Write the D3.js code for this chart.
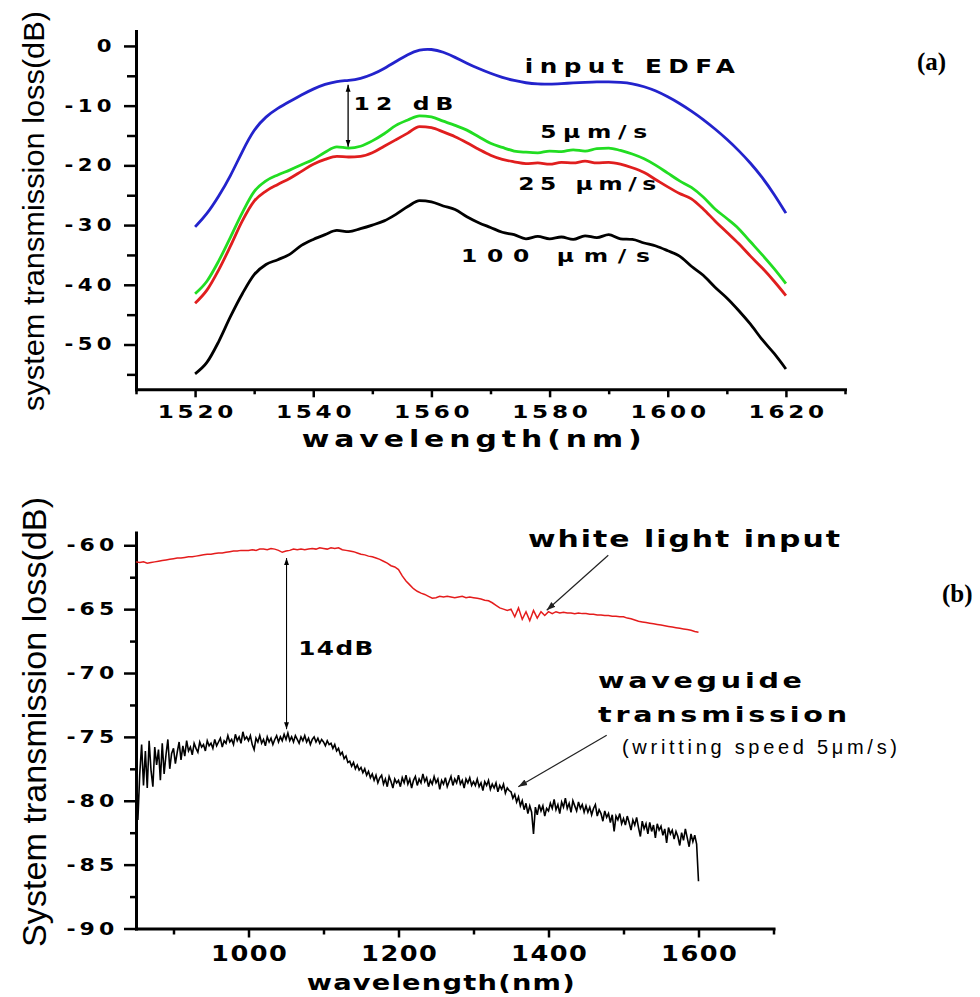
<!DOCTYPE html>
<html>
<head>
<meta charset="utf-8">
<script src="https://cdn.jsdelivr.net/npm/d3@7"></script>
<style>
  body { margin: 0; background: #fff; }
  svg { display: block; }
</style>
</head>
<body>
<div id="chart"></div>
<script>
// ---- datos panel (a) ----
const wavelengthA = [1520,1522,1524,1526,1528,1530,1532,1534,1536,1538,
                     1540,1542,1544,1546,1548,1550,1552,1554,1556,1558,
                     1560,1562,1564,1566,1568,1570,1572,1574,1576,1578,
                     1580,1582,1584,1586,1588,1590,1592,1594,1596,1598,
                     1600,1602,1604,1606,1608,1610,1612,1614,1616,1618,1620]
const edfaInput = [-30.3,-28.2,-25.2,-21.8,-17.6,-13.9,-11.8,-10.4,-9.3,-8.2,
                   -7.2,-6.4,-5.9,-5.8,-5.5,-4.8,-3.8,-2.6,-1.4,-0.6,
                   -0.5,-1.0,-1.9,-2.9,-3.8,-4.6,-5.3,-5.8,-6.2,-6.4,
                   -6.4,-6.3,-6.2,-6.1,-6.0,-6.0,-6.1,-6.3,-6.8,-7.5,
                   -8.5,-9.6,-10.9,-12.3,-13.9,-15.6,-17.5,-19.6,-22.0,-24.8,-28.0]
const speed5 = [-41.5,-39.4,-36.0,-32.0,-27.9,-24.4,-22.6,-21.6,-20.8,-19.9,
                -19.0,-17.8,-16.9,-17.1,-16.8,-15.9,-14.7,-13.3,-12.4,-11.7,
                -11.9,-12.6,-13.3,-14.1,-15.2,-16.3,-17.0,-17.6,-17.8,-17.9,
                -17.6,-17.7,-17.4,-17.6,-17.2,-17.1,-17.5,-18.1,-18.9,-20.0,
                -21.3,-22.6,-23.7,-25.3,-27.3,-28.9,-30.6,-32.8,-35.0,-37.3,-39.8]
const speed25 = [-43.1,-40.9,-37.5,-33.5,-29.3,-26.0,-24.3,-23.2,-22.2,-21.0,
                 -19.8,-19.0,-18.5,-18.6,-18.5,-17.9,-16.8,-15.7,-14.6,-13.5,
                 -13.7,-14.4,-15.2,-16.2,-17.3,-18.3,-19.0,-19.4,-19.7,-19.6,
                 -19.8,-19.5,-19.6,-19.3,-19.6,-19.5,-19.8,-20.4,-21.2,-22.4,
                 -23.6,-24.7,-25.6,-27.3,-29.3,-31.2,-33.1,-35.2,-37.2,-39.4,-41.8]
const speed100 = [-54.9,-53.0,-49.5,-45.3,-41.5,-38.3,-36.6,-35.8,-34.9,-33.4,
                  -32.4,-31.6,-30.9,-31.1,-30.6,-30.0,-29.3,-28.2,-26.9,-25.9,
                  -26.1,-26.8,-27.4,-28.6,-29.6,-30.4,-31.2,-31.6,-32.3,-31.9,
                  -32.3,-32.0,-32.4,-31.8,-32.1,-31.6,-32.3,-32.4,-33.0,-33.5,
                  -34.3,-35.2,-36.9,-38.4,-40.4,-42.2,-44.3,-46.6,-49.2,-51.5,-54.1]
const xTicksA = [1520,1540,1560,1580,1600,1620]
const xMinorA = [1510,1530,1550,1570,1590,1610,1630]
const yTicksA = [0,-10,-20,-30,-40,-50]
const yMinorA = [-5,-15,-25,-35,-45,-55]

// ---- datos panel (b) ----
// luz blanca, cada 5 nm
const wavelengthWhite = [850,855,860,865,870,875,880,885,890,895,
                         900,905,910,915,920,925,930,935,940,945,
                         950,955,960,965,970,975,980,985,990,995,
                         1000,1005,1010,1015,1020,1025,1030,1035,1040,1045,
                         1050,1055,1060,1065,1070,1075,1080,1085,1090,1095,
                         1100,1105,1110,1115,1120,1125,1130,1135,1140,1145,
                         1150,1155,1160,1165,1170,1175,1180,1185,1190,1195,
                         1200,1205,1210,1215,1220,1225,1230,1235,1240,1245,
                         1250,1255,1260,1265,1270,1275,1280,1285,1290,1295,
                         1300,1305,1310,1315,1320,1325,1330,1335,1340,1345,
                         1350,1355,1360,1365,1370,1375,1380,1385,1390,1395,
                         1400,1405,1410,1415,1420,1425,1430,1435,1440,1445,
                         1450,1455,1460,1465,1470,1475,1480,1485,1490,1495,
                         1500,1505,1510,1515,1520,1525,1530,1535,1540,1545,
                         1550,1555,1560,1565,1570,1575,1580,1585,1590,1595,
                         1600]
const whiteLight = [-61.3,-61.35,-61.3,-61.4,-61.35,-61.3,-61.25,-61.2,-61.15,-61.1,
                    -61.05,-61.0,-61.0,-60.95,-60.9,-60.9,-60.85,-60.8,-60.75,-60.7,
                    -60.7,-60.65,-60.6,-60.6,-60.55,-60.5,-60.45,-60.45,-60.4,-60.4,
                    -60.4,-60.35,-60.4,-60.3,-60.3,-60.35,-60.25,-60.3,-60.4,-60.55,
                    -60.45,-60.4,-60.3,-60.35,-60.3,-60.35,-60.3,-60.25,-60.3,-60.2,
                    -60.25,-60.3,-60.2,-60.25,-60.2,-60.35,-60.4,-60.45,-60.5,-60.6,
                    -60.7,-60.75,-60.85,-60.9,-61.0,-61.1,-61.25,-61.4,-61.6,-61.7,
                    -61.9,-62.4,-62.8,-63.1,-63.4,-63.6,-63.75,-63.85,-64.0,-64.15,
                    -64.1,-64.0,-64.05,-64.0,-64.05,-64.1,-64.05,-64.0,-64.1,-64.05,
                    -64.1,-64.15,-64.2,-64.3,-64.35,-64.5,-64.7,-64.9,-65.0,-65.1,
                    -65.0,-65.6,-64.9,-65.8,-65.2,-65.9,-65.1,-65.7,-65.2,-65.5,
                    -65.2,-65.35,-65.2,-65.3,-65.25,-65.3,-65.3,-65.35,-65.3,-65.35,
                    -65.35,-65.4,-65.4,-65.45,-65.45,-65.5,-65.5,-65.55,-65.55,-65.6,
                    -65.6,-65.7,-65.75,-65.85,-65.95,-66.0,-66.05,-66.1,-66.15,-66.2,
                    -66.25,-66.3,-66.35,-66.4,-66.45,-66.5,-66.55,-66.6,-66.65,-66.75,
                    -66.8]
// guía de onda, cada 2.5 nm
const wavelengthGuide = [850,852.5,855,857.5,860,862.5,865,867.5,870,872.5,875,877.5,880,882.5,885,887.5,890,892.5,895,897.5,
                         900,902.5,905,907.5,910,912.5,915,917.5,920,922.5,925,927.5,930,932.5,935,937.5,940,942.5,945,947.5,
                         950,952.5,955,957.5,960,962.5,965,967.5,970,972.5,975,977.5,980,982.5,985,987.5,990,992.5,995,997.5,
                         1000,1002.5,1005,1007.5,1010,1012.5,1015,1017.5,1020,1022.5,1025,1027.5,1030,1032.5,1035,1037.5,1040,1042.5,1045,1047.5,
                         1050,1052.5,1055,1057.5,1060,1062.5,1065,1067.5,1070,1072.5,1075,1077.5,1080,1082.5,1085,1087.5,1090,1092.5,1095,1097.5,
                         1100,1102.5,1105,1107.5,1110,1112.5,1115,1117.5,1120,1122.5,1125,1127.5,1130,1132.5,1135,1137.5,1140,1142.5,1145,1147.5,
                         1150,1152.5,1155,1157.5,1160,1162.5,1165,1167.5,1170,1172.5,1175,1177.5,1180,1182.5,1185,1187.5,1190,1192.5,1195,1197.5,
                         1200,1202.5,1205,1207.5,1210,1212.5,1215,1217.5,1220,1222.5,1225,1227.5,1230,1232.5,1235,1237.5,1240,1242.5,1245,1247.5,
                         1250,1252.5,1255,1257.5,1260,1262.5,1265,1267.5,1270,1272.5,1275,1277.5,1280,1282.5,1285,1287.5,1290,1292.5,1295,1297.5,
                         1300,1302.5,1305,1307.5,1310,1312.5,1315,1317.5,1320,1322.5,1325,1327.5,1330,1332.5,1335,1337.5,1340,1342.5,1345,1347.5,
                         1350,1352.5,1355,1357.5,1360,1362.5,1365,1367.5,1370,1372.5,1375,1377.5,1380,1382.5,1385,1387.5,1390,1392.5,1395,1397.5,
                         1400,1402.5,1405,1407.5,1410,1412.5,1415,1417.5,1420,1422.5,1425,1427.5,1430,1432.5,1435,1437.5,1440,1442.5,1445,1447.5,
                         1450,1452.5,1455,1457.5,1460,1462.5,1465,1467.5,1470,1472.5,1475,1477.5,1480,1482.5,1485,1487.5,1490,1492.5,1495,1497.5,
                         1500,1502.5,1505,1507.5,1510,1512.5,1515,1517.5,1520,1522.5,1525,1527.5,1530,1532.5,1535,1537.5,1540,1542.5,1545,1547.5,
                         1550,1552.5,1555,1557.5,1560,1562.5,1565,1567.5,1570,1572.5,1575,1577.5,1580,1582.5,1585,1587.5,1590,1592.5,1595,1597.5,
                         1600]
const waveguide = [-75.4,-81.5,-77.9,-75.6,-78.8,-76.1,-79.0,-75.3,-77.6,-78.9,-75.8,-77.2,-76.0,-78.4,-75.5,-77.9,-76.4,-75.2,-77.5,-76.3,
                   -75.9,-77.1,-76.2,-75.4,-76.8,-75.7,-76.5,-75.3,-76.1,-75.8,-76.4,-75.5,-75.9,-76.2,-75.4,-75.8,-75.6,-76.1,-75.3,-75.7,
                   -75.5,-75.9,-75.2,-75.7,-75.4,-75.1,-75.8,-75.3,-75.5,-74.9,-75.4,-75.2,-75.6,-74.8,-75.3,-75.0,-75.5,-74.6,-75.2,-75.0,
                   -75.3,-74.9,-75.6,-76.0,-75.1,-75.4,-74.9,-75.5,-75.2,-75.7,-75.0,-75.4,-75.1,-75.6,-75.2,-74.9,-75.4,-75.0,-75.3,-74.8,
                   -75.2,-74.7,-75.3,-75.0,-75.4,-74.9,-75.2,-75.5,-75.0,-75.3,-74.9,-75.4,-75.1,-75.6,-75.2,-75.0,-75.4,-75.1,-75.5,-75.2,
                   -75.4,-75.7,-75.3,-75.6,-75.5,-75.9,-75.6,-76.1,-75.9,-76.4,-76.2,-76.7,-76.5,-77.0,-76.9,-77.3,-77.0,-77.5,-77.2,-77.6,
                   -77.4,-77.8,-77.5,-78.0,-77.7,-78.2,-77.9,-78.4,-78.0,-78.6,-78.2,-78.0,-78.7,-78.3,-78.9,-78.1,-78.5,-79.0,-78.3,-78.6,
                   -78.4,-78.9,-78.2,-78.6,-78.0,-78.7,-78.3,-79.0,-78.4,-78.1,-78.8,-78.3,-78.6,-77.9,-78.5,-78.2,-78.9,-78.4,-78.7,-78.1,
                   -78.6,-78.3,-79.1,-78.4,-78.7,-78.2,-78.9,-78.5,-78.1,-78.8,-78.3,-78.6,-78.0,-78.7,-78.4,-79.0,-78.3,-78.6,-78.2,-78.8,
                   -78.5,-78.8,-78.3,-78.9,-78.6,-79.2,-78.5,-78.8,-78.4,-79.1,-78.7,-79.0,-78.6,-79.3,-78.8,-79.1,-78.7,-79.4,-79.0,-79.2,
                   -79.3,-79.8,-79.5,-80.1,-79.7,-80.4,-80.0,-80.7,-80.2,-81.0,-80.4,-80.9,-82.6,-80.5,-81.1,-80.3,-80.8,-80.4,-81.2,-80.6,
                   -80.8,-80.2,-80.6,-79.9,-80.7,-80.3,-81.0,-80.1,-80.5,-79.8,-80.6,-80.2,-80.9,-80.0,-80.4,-80.8,-80.1,-80.6,-80.3,-80.9,
                   -80.4,-80.9,-80.5,-81.1,-80.6,-80.3,-81.2,-80.7,-81.0,-81.6,-80.8,-81.3,-81.0,-81.7,-81.1,-82.4,-81.2,-81.5,-81.0,-81.8,
                   -81.4,-81.9,-81.2,-81.7,-82.3,-81.5,-81.9,-81.3,-82.1,-82.8,-81.6,-82.2,-81.8,-82.6,-81.7,-82.4,-81.9,-82.9,-81.8,-82.3,
                   -82.0,-82.7,-82.2,-83.3,-82.1,-82.6,-82.3,-83.0,-82.4,-82.8,-83.5,-82.5,-83.1,-82.2,-82.9,-83.6,-82.6,-83.2,-82.7,-83.4,
                   -86.3]
const xTicksB = [1000,1200,1400,1600]
const xMinorB = [900,1100,1300,1500,1700]
const yTicksB = [-60,-65,-70,-75,-80,-85,-90]
const yMinorB = [-62.5,-67.5,-72.5,-77.5,-82.5,-87.5]

// ---- constantes y SVG ----
const width = 980
const height = 997
const boldFont = "'DejaVu Sans', Arial, sans-serif"
const plainFont = "'Liberation Sans', Arial, sans-serif"
const narrowFont = "'Liberation Sans Narrow', 'Liberation Sans', Arial, sans-serif"
const stretch = 1.3   // el original usa una tipografía muy ancha

const svg = d3.select("#chart").append("svg").attr("width", width).attr("height", height)
svg.append("rect").attr("width", width).attr("height", height).attr("fill", "#fff")

const defs = svg.append("defs")
function addMarker(id, size, color) {
    defs.append("marker").attr("id", id)
        .attr("viewBox", "0 0 10 10").attr("refX", 10).attr("refY", 5)
        .attr("markerWidth", size).attr("markerHeight", size)
        .attr("markerUnits", "userSpaceOnUse")
        .attr("orient", "auto-start-reverse")
        .append("path").attr("d", "M0,1.5L10,5L0,8.5Z").attr("fill", color)
}
addMarker("headSmall", 7, "#000")
addMarker("headB", 9, "#222")

// escalas
const xA = d3.scaleLinear().domain([1510, 1630]).range([136, 845])
const yA = d3.scaleLinear().domain([-57.5, 2.5]).range([389.3, 31])
const xB = d3.scaleLinear().domain([850, 1700]).range([136, 773.5])
const yB = d3.scaleLinear().domain([-90, -59]).range([928.5, 532.5])

// ejes: menores + mayores
function styleAxis(g) {
    g.select(".domain").attr("stroke", "#000").attr("stroke-width", 3).attr("stroke-linecap", "square")
    g.selectAll(".tick line").attr("stroke", "#000").attr("stroke-width", 2.5)
}
function drawAxes(g, x, y, o) {
    const x0 = x.range()[0], y0 = y.range()[0]
    g.append("g").attr("transform", `translate(0,${y0})`)
        .call(d3.axisBottom(x).tickValues(o.xMinor).tickSize(o.xMinorLen).tickFormat("").tickSizeOuter(0))
        .call(styleAxis).call(s => s.select(".domain").remove())
    g.append("g").attr("transform", `translate(${x0},0)`)
        .call(d3.axisLeft(y).tickValues(o.yMinor).tickSize(o.yMinorLen).tickFormat("").tickSizeOuter(0))
        .call(styleAxis).call(s => s.select(".domain").remove())

    const xg = g.append("g").attr("transform", `translate(0,${y0})`)
        .call(d3.axisBottom(x).tickValues(o.xTicks).tickSize(o.xLen).tickPadding(o.xPad)
              .tickSizeOuter(0).tickFormat(d => String(d)))
        .call(styleAxis)
    xg.selectAll("text").attr("font-family", boldFont).attr("font-weight", "bold")
        .attr("font-size", o.xFont).attr("letter-spacing", o.xLs).attr("fill", "#000")
        .attr("transform", `translate(${o.xLs * 0.6},0) scale(1.25,1)`)

    const yg = g.append("g").attr("transform", `translate(${x0},0)`)
        .call(d3.axisLeft(y).tickValues(o.yTicks).tickSize(o.yLen)
              .tickSizeOuter(0).tickFormat(d => String(d)))
        .call(styleAxis)
    yg.selectAll("text").attr("font-family", boldFont).attr("font-weight", "bold")
        .attr("font-size", o.yFont).attr("letter-spacing", o.yLs).attr("fill", "#000")
        .attr("x", -o.yOff / 1.25).attr("transform", "scale(1.25,1)")
}

// textos anchos en negrita
function boldText(g, txt, x, y, size, len) {
    g.append("text").attr("transform", `translate(${x},${y}) scale(${stretch},1)`)
        .text(txt)
        .attr("font-family", boldFont).attr("font-weight", "bold")
        .attr("font-size", size).attr("fill", "#000")
        .attr("textLength", len / stretch).attr("lengthAdjust", "spacing")
}

// ================= PANEL (a) =================
const gA = svg.append("g").attr("id", "panelA")
drawAxes(gA, xA, yA, {
    xTicks: xTicksA, xMinor: xMinorA, yTicks: yTicksA, yMinor: yMinorA,
    xLen: 8, xMinorLen: 5, xPad: 8, xFont: 18.5, xLs: 3,
    yLen: 12, yMinorLen: 9, yFont: 17, yLs: 3.5, yOff: 20
})

const seriesA = [
    { values: edfaInput, color: "#2323cc", curve: d3.curveBasis },
    { values: speed5, color: "#22dd22", curve: d3.curveMonotoneX },
    { values: speed25, color: "#e01e1e", curve: d3.curveMonotoneX },
    { values: speed100, color: "#000000", curve: d3.curveMonotoneX }
]
gA.selectAll(".curveA").data(seriesA).enter().append("path")
    .attr("class", "curveA")
    .attr("d", s => d3.line().x(d => xA(d[0])).y(d => yA(d[1])).curve(s.curve)(d3.zip(wavelengthA, s.values)))
    .attr("fill", "none").attr("stroke", s => s.color)
    .attr("stroke-width", 2.8).attr("stroke-linejoin", "round")

boldText(gA, "input EDFA", xA(1575.8), yA(-4.6), 19, 210)
boldText(gA, "5\u03bcm/s", xA(1578.4), yA(-15.5), 18, 107)
boldText(gA, "25 \u03bcm/s", xA(1574.7), yA(-24.2), 18, 138)
boldText(gA, "100 \u03bcm/s", xA(1565.0), yA(-36.1), 18, 189)
boldText(gA, "12 dB", xA(1546.8), yA(-10.7), 18, 100)

gA.append("line")
    .attr("x1", xA(1545.9)).attr("x2", xA(1545.9))
    .attr("y1", yA(-6.5)).attr("y2", yA(-16.9))
    .attr("stroke", "#000").attr("stroke-width", 1.3)
    .attr("marker-start", "url(#headSmall)").attr("marker-end", "url(#headSmall)")

boldText(gA, "wavelength(nm)", 301.7, 446.7, 23, 340)

svg.append("text").attr("transform", "translate(43.5,211) rotate(-90)")
    .attr("text-anchor", "middle").attr("font-family", narrowFont)
    .attr("font-size", 30).attr("textLength", 400).attr("lengthAdjust", "spacingAndGlyphs")
    .text("system transmission loss(dB)")

svg.append("text").attr("x", 917).attr("y", 70)
    .attr("font-family", "'Liberation Serif', 'Times New Roman', serif")
    .attr("font-weight", "bold").attr("font-size", 25).text("(a)")

// ================= PANEL (b) =================
const gB = svg.append("g").attr("id", "panelB")
drawAxes(gB, xB, yB, {
    xTicks: xTicksB, xMinor: xMinorB, yTicks: yTicksB, yMinor: yMinorB,
    xLen: 9, xMinorLen: 6, xPad: 9, xFont: 20.5, xLs: 1.2,
    yLen: 12, yMinorLen: 6, yFont: 17.6, yLs: 3.2, yOff: 17.8
})

const lineB = d3.line().x(d => xB(d[0])).y(d => yB(d[1]))
gB.append("path").datum(d3.zip(wavelengthWhite, whiteLight))
    .attr("d", lineB).attr("fill", "none").attr("stroke", "#e41c1c").attr("stroke-width", 1.5)
gB.append("path").datum(d3.zip(wavelengthGuide, waveguide))
    .attr("d", lineB).attr("fill", "none").attr("stroke", "#000").attr("stroke-width", 1.6)

// 14 dB
gB.append("line")
    .attr("x1", xB(1050.7)).attr("x2", xB(1050.7))
    .attr("y1", yB(-61.0)).attr("y2", yB(-74.4))
    .attr("stroke", "#000").attr("stroke-width", 1.1)
    .attr("marker-start", "url(#headSmall)").attr("marker-end", "url(#headSmall)")
boldText(gB, "14dB", xB(1066.4), yB(-68.6), 19, 75)

boldText(gB, "white light input", xB(1372.7), yB(-60.13), 23, 312)
gB.append("line")
    .attr("x1", xB(1479.7)).attr("y1", yB(-60.78))
    .attr("x2", xB(1397.6)).attr("y2", yB(-65.09))
    .attr("stroke", "#222").attr("stroke-width", 1.2).attr("marker-end", "url(#headB)")

boldText(gB, "waveguide", xB(1466), yB(-71.21), 22, 204)
boldText(gB, "transmission", xB(1466), yB(-73.83), 22, 249)
gB.append("text").attr("x", xB(1498)).attr("y", yB(-76.35))
    .attr("font-family", plainFont).attr("font-size", 20).attr("fill", "#000")
    .attr("textLength", 275).attr("lengthAdjust", "spacing")
    .text("(writting speed 5\u03bcm/s)")
gB.append("line")
    .attr("x1", xB(1477.6)).attr("y1", yB(-74.87))
    .attr("x2", xB(1359.7)).attr("y2", yB(-78.91))
    .attr("stroke", "#222").attr("stroke-width", 1.2).attr("marker-end", "url(#headB)")

boldText(gB, "wavelength(nm)", 306.7, 990, 21, 268)

svg.append("text").attr("transform", "translate(46,722) rotate(-90)")
    .attr("text-anchor", "middle").attr("font-family", narrowFont)
    .attr("font-size", 34).attr("textLength", 450).attr("lengthAdjust", "spacingAndGlyphs")
    .text("System transmission loss(dB)")

svg.append("text").attr("x", 942).attr("y", 602)
    .attr("font-family", "'Liberation Serif', 'Times New Roman', serif")
    .attr("font-weight", "bold").attr("font-size", 25).text("(b)")
</script>
</body>
</html>
